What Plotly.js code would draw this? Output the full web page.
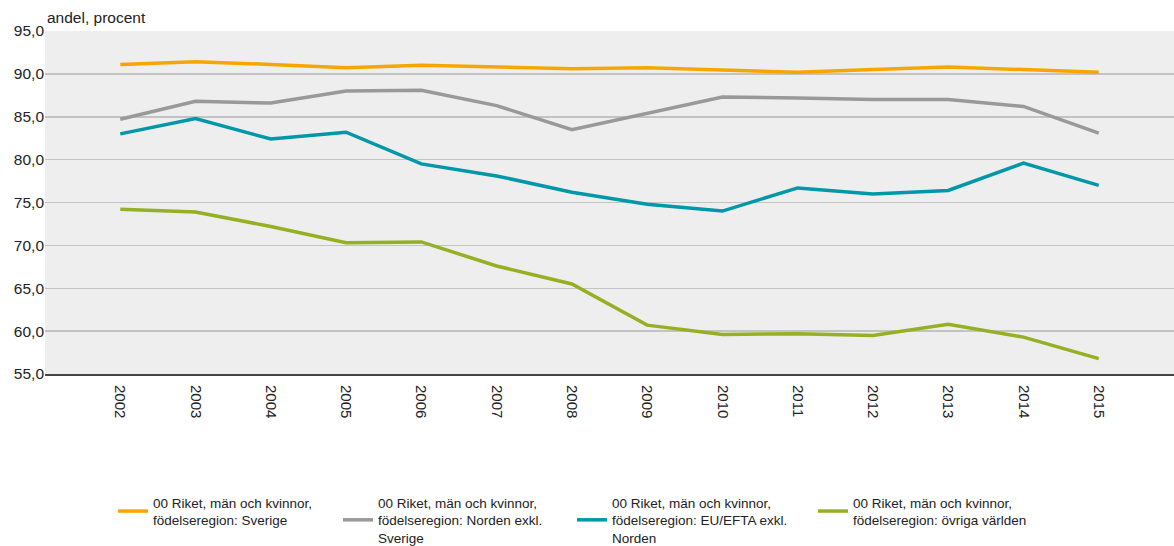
<!DOCTYPE html>
<html>
<head>
<meta charset="utf-8">
<script src="https://cdn.plot.ly/plotly-3.0.1.min.js"></script>
<style>html,body{margin:0;padding:0;background:#fff}#chart{width:1174px;height:546px}</style>
</head>
<body>
<div id="chart"></div>
<script>
const years = [2002,2003,2004,2005,2006,2007,2008,2009,2010,2011,2012,2013,2014,2015];
const sverige = [91.1,91.4,91.1,90.7,91.0,90.8,90.6,90.7,90.4,90.2,90.5,90.8,90.5,90.2];
const norden = [84.7,86.8,86.6,88.0,88.1,86.3,83.5,85.4,87.3,87.2,87.0,87.0,86.2,83.1];
const euefta = [83.0,84.8,82.4,83.2,79.5,78.1,76.2,74.8,74.0,76.7,76.0,76.4,79.6,77.0];
const ovriga = [74.2,73.9,72.2,70.3,70.4,67.6,65.5,60.7,59.6,59.7,59.5,60.8,59.3,56.8];
const seriesNames = [
  "00 Riket, män och kvinnor,<br>födelseregion: Sverige",
  "00 Riket, män och kvinnor,<br>födelseregion: Norden exkl.<br>Sverige",
  "00 Riket, män och kvinnor,<br>födelseregion: EU/EFTA exkl.<br>Norden",
  "00 Riket, män och kvinnor,<br>födelseregion: övriga världen"
];
const colors = ["#f7a600","#999999","#0097a9","#95b023"];
const yTicks = [55,60,65,70,75,80,85,90,95];
const yTickText = ["55,0","60,0","65,0","70,0","75,0","80,0","85,0","90,0","95,0"];

const allSeries = [sverige, norden, euefta, ovriga];
const legendIds = ["legend","legend2","legend3","legend4"];
const traces = allSeries.map((s,i)=>({
  x: years, y: s, type:'scatter', mode:'lines', name: seriesNames[i],
  line:{color:colors[i], width:3.5}, legend: legendIds[i], showlegend:true
}));

const legendX = [113, 338, 572, 813];
const legendBase = {
  xref:'container', yref:'container', xanchor:'left', yanchor:'top',
  y: 1 - 487/546, orientation:'h', bgcolor:'rgba(0,0,0,0)',
  font:{family:'Liberation Sans, Arial, sans-serif', size:13.5, color:'#222'},
  itemwidth:30, tracegroupgap:0
};
const layout = {
  width:1174, height:546,
  margin:{l:45, r:0, t:31, b:172},
  paper_bgcolor:'#ffffff', plot_bgcolor:'#eeeeee',
  font:{family:'Liberation Sans, Arial, sans-serif', color:'#222'},
  xaxis:{
    range:[2001,2016], tickvals:years, ticktext:years.map(String), tickangle:90,
    showgrid:false, zeroline:false, showline:true, linecolor:'#444', linewidth:2,
    ticks:'outside', ticklen:6, tickcolor:'rgba(0,0,0,0)', tickfont:{size:15, color:'#222'}
  },
  yaxis:{
    range:[55,95], tickvals:yTicks, ticktext:yTickText, showgrid:true, gridcolor:'#c3c3c3',
    gridwidth:1.5, zeroline:false, showline:false, ticks:'', tickfont:{size:15.5, color:'#222'}
  },
  annotations:[
    {text:'andel, procent', xref:'paper', yref:'paper', x:0, y:1, xanchor:'left', yanchor:'bottom',
     xshift:0, yshift:3, showarrow:false, font:{size:15.5, color:'#222'}},
    {text:'år', xref:'container', yref:'container', x:1158/1174, y:1-451/546, xanchor:'left', yanchor:'middle',
     showarrow:false, font:{size:15.5, color:'#222'}}
  ]
};
legendIds.forEach((id,i)=>{ layout[id] = Object.assign({}, legendBase, {x: legendX[i]/1174}); });

Plotly.newPlot('chart', traces, layout, {displayModeBar:false, staticPlot:true});
</script>
</body>
</html>
